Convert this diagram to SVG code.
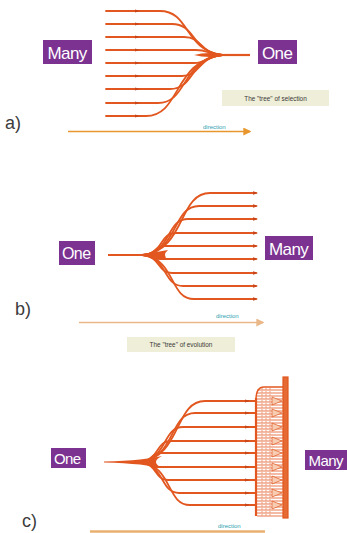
<svg xmlns="http://www.w3.org/2000/svg" width="347" height="533" viewBox="0 0 347 533">
<style>
.bg{fill:#ffffff}
.lab rect{fill:#7b3290}
.lab text{fill:#ffffff;font-family:"Liberation Sans",Arial,sans-serif;letter-spacing:-0.6px}
.br{fill:none;stroke:#e2571f;stroke-width:1.8;stroke-linecap:round}
.stem{fill:none;stroke:#e2571f;stroke-width:2.2}
.blob{fill:#e2571f}
.tip{fill:#c9461a}
.note rect{fill:#efeed8}
.note text{fill:#3a3a3a;font-family:"Liberation Sans",Arial,sans-serif;font-size:6.4px;text-anchor:middle}
.pl{fill:#3c3c3c;font-family:"Liberation Sans",Arial,sans-serif;font-size:18px}
.dir{fill:#2a9fb0;font-family:"Liberation Sans",Arial,sans-serif;font-size:6px}
.comb{fill:none;stroke:#e2571f;stroke-width:0.8}
</style>
<defs>
<marker id="ah" viewBox="0 0 6 6" refX="5" refY="3" markerWidth="5" markerHeight="5" orient="auto"><path d="M0,0 L6,3 L0,6 z" fill="#e8962e"/></marker>
<marker id="ahb" viewBox="0 0 6 6" refX="5" refY="3" markerWidth="5" markerHeight="5" orient="auto"><path d="M0,0 L6,3 L0,6 z" fill="#eab888"/></marker>
</defs>
<rect class="bg" x="0" y="0" width="347" height="533"/>

<!-- Panel a -->
<g id="connectors-a">
<path class="br" d="M106,11 H160 C190,11 184,50 222,55"/>
<path class="br" d="M106,24 H172 C196,24 191,51 222,55"/>
<path class="br" d="M106,37 H184 C203,37 199,53 222,55"/>
<path class="br" d="M106,50 H196 C209,50 207,54.5 222,55"/>
<path class="br" d="M106,63 H194 C208,63 205,55.5 222,55"/>
<path class="br" d="M106,76 H182 C201,76 197,57.5 222,55"/>
<path class="br" d="M106,89 H170 C195,89 189,59 222,55"/>
<path class="br" d="M106,103 H158 C188,103 181,60 222,55"/>
<path class="br" d="M106,116 H146 C181,116 173,61 222,55"/>
<path class="blob" d="M194,55 Q207,51.5 224,54.3 L224,55.7 Q207,58.5 194,55 Z"/>
<path class="stem" d="M220,55 H250"/>
<g class="tip">
<polygon points="135,9.6 140,11 135,12.4"/><polygon points="135,22.6 140,24 135,25.4"/><polygon points="135,35.6 140,37 135,38.4"/><polygon points="135,48.6 140,50 135,51.4"/><polygon points="135,61.6 140,63 135,64.4"/><polygon points="135,74.6 140,76 135,77.4"/><polygon points="135,87.6 140,89 135,90.4"/><polygon points="135,101.6 140,103 135,104.4"/><polygon points="135,114.6 140,116 135,117.4"/>
</g>
<line x1="68" y1="131.5" x2="250" y2="131.5" stroke="#e8962e" stroke-width="1.6" marker-end="url(#ah)"/>
</g>
<g id="many-a" class="lab"><rect x="43" y="40" width="49" height="24"/><text x="47.5" y="58.5" font-size="17">Many</text></g>
<g id="one-a" class="lab"><rect x="258" y="40" width="39" height="24"/><text x="262" y="58.5" font-size="17">One</text></g>
<g id="note-a" class="note"><rect x="222" y="90" width="107" height="16"/><text x="275.5" y="100.5">The "tree" of selection</text></g>
<text class="pl" x="5" y="129">a)</text>
<text class="dir" x="203" y="128.5">direction</text>

<!-- Panel b -->
<g id="connectors-b">
<path class="br" d="M143,255 C186,250 178,193 210,193 H256"/>
<path class="br" d="M143,255 C179,251 172,206 199,206 H256"/>
<path class="br" d="M143,255 C172,252 166,219 188,219 H256"/>
<path class="br" d="M143,255 C164,253.5 159,233 176,233 H256"/>
<path class="br" d="M143,255 C157,254.5 153,246 165,246 H256"/>
<path class="br" d="M143,255 C153,255.5 150,259 160,259 H256"/>
<path class="br" d="M143,255 C161,257 157,273 172,273 H256"/>
<path class="br" d="M143,255 C168,258 163,286 183,286 H256"/>
<path class="br" d="M143,255 C176,259 169,299 194,299 H256"/>
<path class="blob" d="M138,254.2 Q150,253.5 168,250 Q162,255 168,260 Q150,256.5 138,255.8 Z"/>
<path class="stem" d="M108,255 H146"/>
<g class="tip">
<polygon points="253,191.2 258,193 253,194.8"/><polygon points="253,204.2 258,206 253,207.8"/><polygon points="253,217.2 258,219 253,220.8"/><polygon points="253,231.2 258,233 253,234.8"/><polygon points="253,244.2 258,246 253,247.8"/><polygon points="253,257.2 258,259 253,260.8"/><polygon points="253,271.2 258,273 253,274.8"/><polygon points="253,284.2 258,286 253,287.8"/><polygon points="253,297.2 258,299 253,300.8"/>
</g>
<line x1="79" y1="322.5" x2="263" y2="322.5" stroke="#eab888" stroke-width="1.6" marker-end="url(#ahb)"/>
</g>
<g id="one-b" class="lab"><rect x="59" y="241" width="36" height="24"/><text x="62" y="259" font-size="16">One</text></g>
<g id="many-b" class="lab"><rect x="265" y="236" width="48" height="24"/><text x="269" y="254.5" font-size="17">Many</text></g>
<g id="note-b" class="note"><rect x="127" y="337" width="108" height="15"/><text x="181" y="347">The "tree" of evolution</text></g>
<text class="pl" x="15" y="315">b)</text>
<text class="dir" x="216" y="317.5">direction</text>

<!-- Panel c -->
<g id="connectors-c">
<path class="br" d="M140,462 C182,457 174,401 205,401 H255"/>
<path class="br" d="M140,462 C176,458 169,413 195,413 H255"/>
<path class="br" d="M140,462 C168,459 162,427 183,427 H255"/>
<path class="br" d="M140,462 C160,460.5 155,441 171,441 H255"/>
<path class="br" d="M140,462 C153,461.5 150,453 161,453 H255"/>
<path class="br" d="M140,462 C150,462.5 148,467 157,467 H255"/>
<path class="br" d="M140,462 C158,464 154,480 168,480 H255"/>
<path class="br" d="M140,462 C165,465 160,493 179,493 H255"/>
<path class="br" d="M140,462 C173,466 166,505 190,505 H255"/>
<path class="blob" d="M104,461.6 Q125,461 140,459.5 Q152,458 162,456 Q150,462 162,468 Q152,466 140,464.5 Q125,463 104,462.4 Z"/>
<g class="tip">
<polygon points="245,399.4 250,401 245,402.6"/><polygon points="245,411.4 250,413 245,414.6"/><polygon points="245,425.4 250,427 245,428.6"/><polygon points="245,439.4 250,441 245,442.6"/><polygon points="245,451.4 250,453 245,454.6"/><polygon points="245,465.4 250,467 245,468.6"/><polygon points="245,478.4 250,480 245,481.6"/><polygon points="245,491.4 250,493 245,494.6"/><polygon points="245,503.4 250,505 245,506.6"/>
</g>
<g id="comb">
<path d="M256,400 Q256,387 264,387 H284" fill="none" stroke="#e2571f" stroke-width="1.5"/>
<line x1="256" y1="398" x2="256" y2="516" stroke="#e2571f" stroke-width="2.2"/>
<path class="comb" d="M257,390H283M257,393H283M257,396H283M257,399H283M257,402H283M257,405H283M257,408H283M257,411H283M257,414H283M257,417H283M257,420H283M257,423H283M257,426H283M257,429H283M257,432H283M257,435H283M257,438H283M257,441H283M257,444H283M257,447H283M257,450H283M257,453H283M257,456H283M257,459H283M257,462H283M257,465H283M257,468H283M257,471H283M257,474H283M257,477H283M257,480H283M257,483H283M257,486H283M257,489H283M257,492H283M257,495H283M257,498H283M257,501H283M257,504H283M257,507H283M257,510H283M257,513H283M257,516H283"/>
<path d="M262,388V516M266,388V516M270,388V516" fill="none" stroke="#e2571f" stroke-width="0.6" stroke-dasharray="1.5 1.5"/>
<g fill="#f6cdb2" stroke="#e2571f" stroke-width="0.7">
<polygon points="272,397 282,401 272,405"/><polygon points="272,409 282,413 272,417"/><polygon points="272,423 282,427 272,431"/><polygon points="272,437 282,441 272,445"/><polygon points="272,449 282,453 272,457"/><polygon points="272,463 282,467 272,471"/><polygon points="272,476 282,480 272,484"/><polygon points="272,489 282,493 272,497"/><polygon points="272,501 282,505 272,509"/>
</g>
<rect x="283" y="377" width="5" height="141" fill="#e66a33" stroke="#e2571f" stroke-width="1.2"/>
</g>
<line x1="90" y1="531.5" x2="265" y2="531.5" stroke="#eab070" stroke-width="2.4"/>
</g>
<g id="one-c" class="lab"><rect x="51" y="448" width="35" height="20"/><text x="54" y="463.5" font-size="15">One</text></g>
<g id="many-c" class="lab"><rect x="305" y="450" width="42" height="20"/><text x="308.5" y="465.5" font-size="15">Many</text></g>
<text class="pl" x="22" y="527">c)</text>
<text class="dir" x="218" y="528">direction</text>
</svg>
